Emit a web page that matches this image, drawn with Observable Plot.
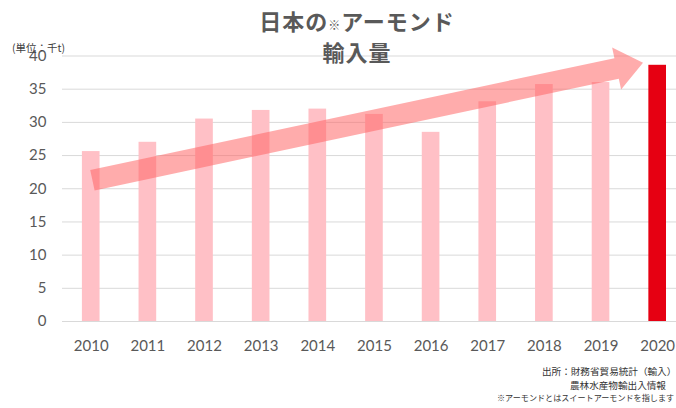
<!DOCTYPE html>
<html>
<head>
<meta charset="utf-8">
<script src="https://cdn.jsdelivr.net/npm/d3@7"></script>
<script src="https://cdn.jsdelivr.net/npm/@observablehq/plot@0.6"></script>
<style>
  html, body { margin: 0; padding: 0; background: #fff; overflow: hidden; }
  #wrap { position: relative; width: 676px; height: 408px; overflow: hidden; }
  #chart { position: absolute; left: 0; top: 0; }
  .t { position: absolute; white-space: nowrap; font-family: "Noto Sans CJK JP", sans-serif; }
  #title1, #title2 { left: 0; width: 714px; text-align: center; font-size: 22px; font-weight: bold; color: #595959; letter-spacing: 1px; line-height: 1; }
  #title1 { top: 9px; }
  #title2 { top: 40px; }
  .small { font-size: 12px; }
  #unit { left: 12px; top: 43px; font-size: 10.5px; color: #404040; line-height: 1; }
  .note { font-size: 9.6px; color: #333; line-height: 1; }
  #note1 { left: 542px; top: 367px; }
  #note2 { left: 570px; top: 381px; }
  #note3 { left: 497px; top: 394px; font-size: 8.1px; }
</style>
</head>
<body>
<div id="wrap">
  <div id="chart"></div>
  <div class="t" id="title1">日本の<span class="small">※</span>アーモンド</div>
  <div class="t" id="title2">輸入量</div>
  <div class="t" id="unit">(単位：千t)</div>
  <div class="t note" id="note1">出所：財務省貿易統計（輸入）</div>
  <div class="t note" id="note2">農林水産物輸出入情報</div>
  <div class="t note" id="note3">※アーモンドとはスイートアーモンドを指します</div>
</div>
<script>
// Data
const years = [2010, 2011, 2012, 2013, 2014, 2015, 2016, 2017, 2018, 2019, 2020];
const imports = [25.6, 27.0, 30.5, 31.8, 32.0, 31.2, 28.5, 33.1, 35.7, 36.0, 38.6];
const highlightYear = 2020;
const yTicks = [0, 5, 10, 15, 20, 25, 30, 35, 40];
// Trend arrow: tail and tip in data space (year, value)
const trendYears = [2010.03, 2019.75];
const trendValues = [21.2, 38.9];

const data = years.map((year, i) => ({year, value: imports[i]}));

const arrowMark = (index, scales) => {
  const x = scales.x, y = scales.y;
  const x0 = x(trendYears[0]), y0 = y(trendValues[0]);
  const x1 = x(trendYears[1]), y1 = y(trendValues[1]);
  const dx = x1 - x0, dy = y1 - y0, L = Math.hypot(dx, dy);
  const ux = dx / L, uy = dy / L, nx = -uy, ny = ux;
  const w = 10.5, h = 21.5, hl = 27;
  const bx = x1 - ux * hl, by = y1 - uy * hl;
  const pts = [
    [x0 + nx * w, y0 + ny * w],
    [bx + nx * w, by + ny * w],
    [bx + nx * h, by + ny * h],
    [x1, y1],
    [bx - nx * h, by - ny * h],
    [bx - nx * w, by - ny * w],
    [x0 - nx * w, y0 - ny * w]
  ];
  const svg = d3.create("svg:g");
  svg.append("path")
    .attr("d", "M" + pts.map(p => p.join(",")).join("L") + "Z")
    .attr("fill", "#ff5f5f")
    .attr("fill-opacity", 0.52);
  return svg.node();
};

const chart = Plot.plot({
  width: 676,
  height: 408,
  marginLeft: 62,
  marginRight: 0,
  marginTop: 55.5,
  marginBottom: 87,
  style: {fontFamily: "Lato, sans-serif", fontSize: "15px", color: "#595959", background: "transparent"},
  x: {domain: [2009.5, 2020.5], range: [62.4, 685.5]},
  y: {domain: [0, 40], range: [321, 55.5]},
  marks: [
    Plot.gridY(yTicks, {stroke: "#d9d9d9", strokeOpacity: 1}),
    Plot.rectY(data, {
      x1: d => d.year - 0.5,
      x2: d => d.year + 0.5,
      y: "value",
      insetLeft: 19.5,
      insetRight: 19.5,
      fill: d => d.year === highlightYear ? "#e60012" : "#ffc0c6"
    }),
    arrowMark,
    Plot.axisY(yTicks, {tickSize: 0, tickPadding: 16, label: null, fontSize: 15}),
    Plot.axisX(years, {tickSize: 0, tickPadding: 19, tickFormat: d => String(d), label: null, fontSize: 15})
  ]
});
document.getElementById("chart").append(chart);
</script>
</body>
</html>
